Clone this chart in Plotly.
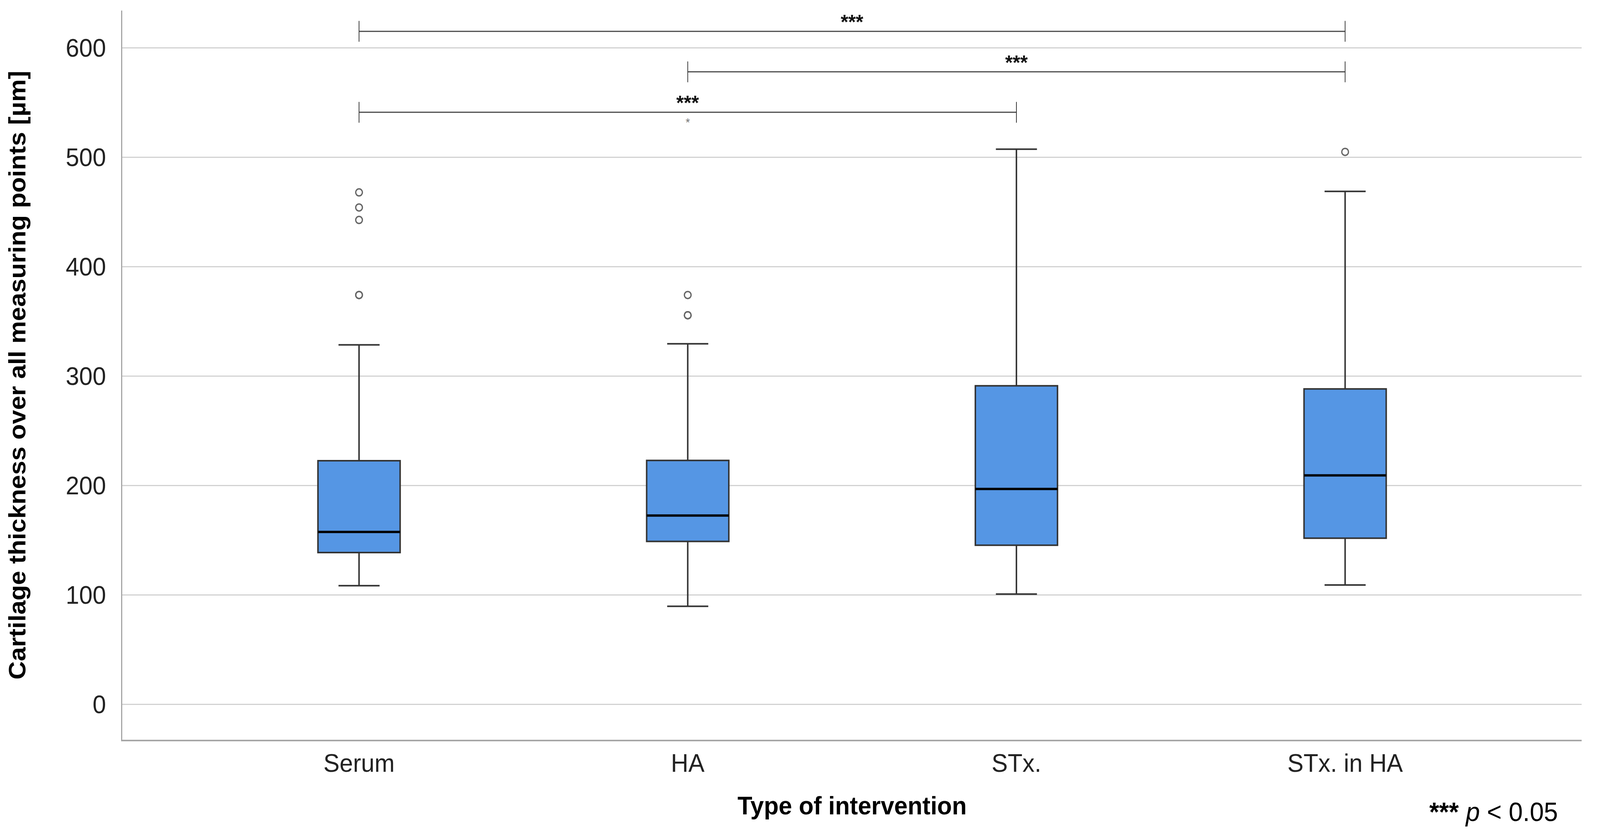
import plotly.graph_objects as go

# ---------------- data ----------------
categories = ["Serum", "HA", "STx.", "STx. in HA"]
lower_whisker = [108.3, 89.5, 100.6, 108.9]
q1 = [138.6, 148.8, 145.3, 151.7]
median = [157.4, 172.4, 196.7, 209.1]
q3 = [222.5, 222.8, 291.0, 288.2]
upper_whisker = [328.4, 329.4, 507.3, 468.7]
outliers = {
    "Serum": [467.8, 454.0, 442.6, 374.0, 374.0],
    "HA": [374.0, 355.5, 355.5],
    "STx.": [],
    "STx. in HA": [504.8],
}
# significance brackets: (from category, to category, height, label)
bracket_from = ["Serum", "HA", "Serum"]
bracket_to = ["STx. in HA", "STx. in HA", "STx."]
bracket_y = [615.0, 578.0, 541.0]
bracket_label = ["***", "***", "***"]
y_ticks = [0, 100, 200, 300, 400, 500, 600]

# ---------------- styling ----------------
W, H = 4301, 2147
BOX_W = 0.25
TICK_H = 9.5
FONT = "Liberation Sans, Arial, sans-serif"
xpos = {c: i for i, c in enumerate(categories)}
xs = [xpos[c] for c in categories]

fig = go.Figure()

fig.add_trace(go.Box(
    x=xs, q1=q1, median=median, q3=q3,
    lowerfence=lower_whisker, upperfence=upper_whisker,
    width=BOX_W, whiskerwidth=0.5,
    fillcolor="#5596e4",
    line=dict(color="#333333", width=4),
    boxpoints=False, hoverinfo="skip", showlegend=False,
))

# thick black median lines
mx, my = [], []
for i, m in zip(xs, median):
    mx += [i - BOX_W / 2, i + BOX_W / 2, None]
    my += [m, m, None]
fig.add_trace(go.Scatter(x=mx, y=my, mode="lines",
                         line=dict(color="black", width=6),
                         hoverinfo="skip", showlegend=False))

# outliers
ox, oy = [], []
for c in categories:
    for v in outliers[c]:
        ox.append(xpos[c])
        oy.append(v)
fig.add_trace(go.Scatter(x=ox, y=oy, mode="markers",
                         marker=dict(symbol="circle-open", size=18, color="#666666",
                                     line=dict(width=3.5, color="#666666")),
                         hoverinfo="skip", showlegend=False))

# significance brackets
bx, by, tx, ty = [], [], [], []
for a, b, h in zip(bracket_from, bracket_to, bracket_y):
    xa, xb = xpos[a], xpos[b]
    bx += [xa, xb, None]
    by += [h, h, None]
    tx += [xa, xa, None, xb, xb, None]
    ty += [h - TICK_H, h + TICK_H, None, h - TICK_H, h + TICK_H, None]
fig.add_trace(go.Scatter(x=bx, y=by, mode="lines",
                         line=dict(color="#4a4a4a", width=3),
                         hoverinfo="skip", showlegend=False))
fig.add_trace(go.Scatter(x=tx, y=ty, mode="lines",
                         line=dict(color="#333333", width=2),
                         hoverinfo="skip", showlegend=False))

for a, b, h, lab in zip(bracket_from, bracket_to, bracket_y, bracket_label):
    xm = (xpos[a] + xpos[b]) / 2
    fig.add_annotation(x=xm, y=h, xref="x", yref="y", text="<b>" + lab + "</b>",
                       showarrow=False, yanchor="bottom", yshift=-7,
                       font=dict(family=FONT, size=52, color="#111111"))

# small asterisk under the lowest bracket
fig.add_annotation(x=(xpos[bracket_from[2]] + xpos[bracket_to[2]]) / 2, y=bracket_y[2],
                   xref="x", yref="y", text="*", showarrow=False,
                   yanchor="top", yshift=-7,
                   font=dict(family=FONT, size=30, color="#777777"))

# p-value note
fig.add_annotation(x=0.9842, y=-0.0986, xref="paper", yref="paper",
                   text="<b>***</b> <i>p</i> &lt; 0.05", showarrow=False,
                   xanchor="right", yanchor="middle",
                   font=dict(family=FONT, size=68, color="black"))

fig.update_layout(
    width=W, height=H,
    margin=dict(l=329, r=49, t=27, b=254),
    paper_bgcolor="white", plot_bgcolor="white",
    showlegend=False,
    font=dict(family=FONT, size=65, color="#222222"),
    xaxis=dict(
        range=[-0.72, 3.72], tickvals=xs, ticktext=categories,
        showgrid=False, zeroline=False,
        showline=True, linecolor="#a6a6a6", linewidth=4,
        ticks="", ticklabelstandoff=0,
        tickfont=dict(family=FONT, size=65, color="#222222"),
        title=dict(text="<b>Type of intervention</b>", standoff=52,
                   font=dict(family=FONT, size=65, color="black")),
    ),
    yaxis=dict(
        range=[-32.5, 634], tickvals=y_ticks,
        showgrid=True, gridcolor="#d2d2d2", gridwidth=3,
        zeroline=False,
        showline=True, linecolor="#a6a6a6", linewidth=4,
        ticks="", ticklabelstandoff=27,
        tickfont=dict(family=FONT, size=65, color="#222222"),
        title=dict(text="<b>Cartilage thickness over all measuring points [µm]</b>",
                   standoff=88,
                   font=dict(family=FONT, size=65, color="black")),
    ),
)

# fit the fixed-size figure into the browser viewport (no page margins / scrollbars)
fit_js = """
document.documentElement.style.margin = '0';
document.documentElement.style.overflow = 'hidden';
document.body.style.margin = '0';
document.body.style.overflow = 'hidden';
var gd = document.getElementById('{plot_id}');
var sx = Math.min(1, window.innerWidth / %d);
var sy = Math.min(1, window.innerHeight / %d);
if (sx < 1 || sy < 1) {
    gd.style.transformOrigin = '0 0';
    gd.style.transform = 'scale(' + sx + ',' + sy + ')';
}
""" % (W, H)

fig.write_html("out.html", post_script=fit_js, config={"displayModeBar": False})
